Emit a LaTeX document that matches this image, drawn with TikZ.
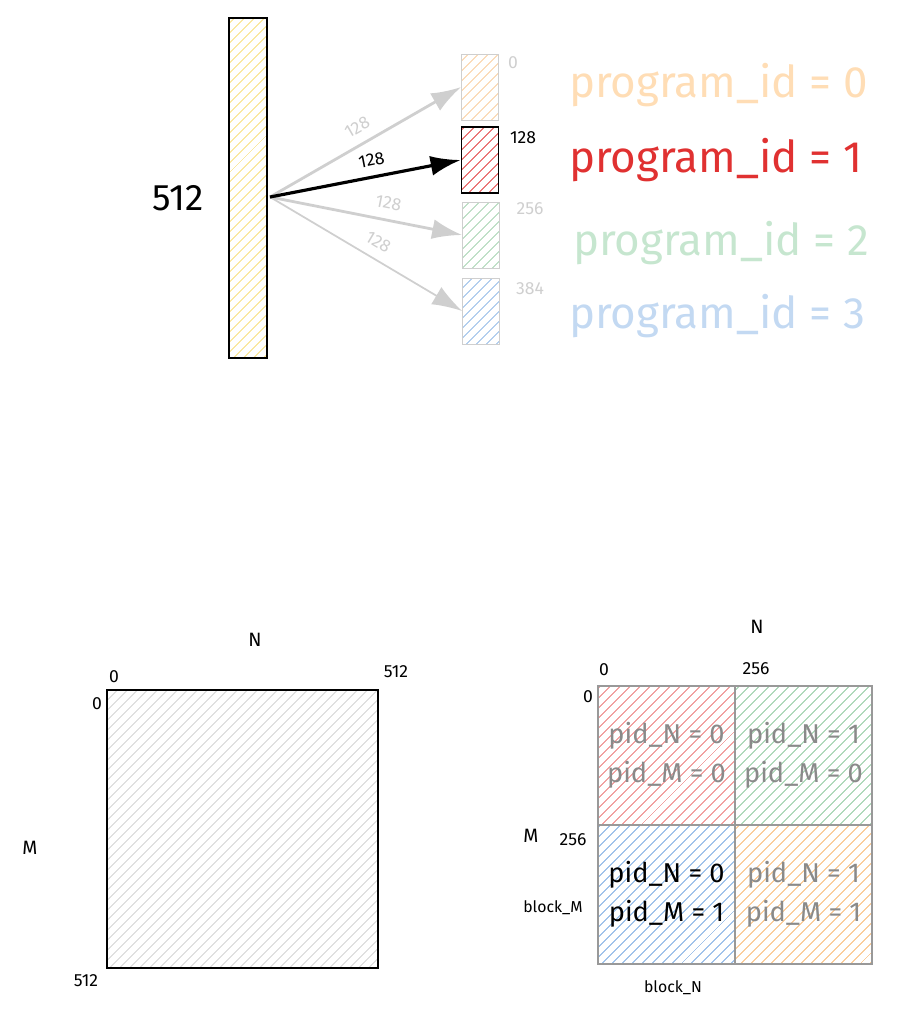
\documentclass[tikz,border=0pt]{standalone}
\usepackage{fontspec}
\setmainfont{Fira Sans}
\usepackage{tikz}
\usetikzlibrary{arrows.meta,positioning,calc,patterns.meta}

\definecolor{barYellow}{HTML}{F7DC6F}
\definecolor{pidOrange}{HTML}{FFDDB5}
\definecolor{hatchOrange}{HTML}{F7B267}
\definecolor{pidRed}{HTML}{E03131}
\definecolor{pidGreen}{HTML}{C6E6CF}
\definecolor{hatchGreen}{HTML}{86C496}
\definecolor{pidBlue}{HTML}{C3D9F2}
\definecolor{hatchBlue}{HTML}{6FA3DE}
\definecolor{lightGray}{HTML}{CFCFCF}
\definecolor{midGray}{HTML}{999999}
\definecolor{textGray}{HTML}{8A8A8A}

\begin{document}
\begin{tikzpicture}[
    x=0.02cm, y=-0.02cm,
    hatch/.style={pattern={Lines[angle=45,distance=4pt,line width=0.5pt]}, pattern color=#1},
    slot/.style={draw, inner sep=0pt, minimum width=0.74cm, minimum height=1.32cm},
    cell/.style={draw=midGray, line width=1pt, inner sep=0pt, minimum width=2.74cm, minimum height=2.78cm,
      align=center, font=\fontsize{15.5}{22}\selectfont, text=textGray},
    arr/.style={-{Latex[length=6mm, width=4mm]}, line width=1.6pt, draw=lightGray},
    num/.style={font=\fontsize{10}{12}\selectfont},
    pid/.style={font=\fontsize{25}{28}\selectfont, anchor=west},
    axis/.style={font=\fontsize{11}{13}\selectfont},
    lbl/.style={num, sloped, above=2pt, pos=#1},
  ]
  \useasboundingbox (0,0) rectangle (898,1019);

  % one row of 512 split into four slots
  \node[draw, line width=1.2pt, inner sep=0pt, minimum width=0.76cm, minimum height=6.8cm, hatch=barYellow] (row) at (248,188) {};
  \node[font=\fontsize{21}{24}\selectfont] (rowlen) at (178,198) {512};
  \coordinate (src) at (270,197);

  \node[slot, draw=lightGray, hatch=hatchOrange!70] (slot0) at (480,87) {};
  \node[slot, draw=black, line width=1pt, hatch=pidRed] (slot1) at (480,160) {};
  \node[slot, draw=lightGray, hatch=hatchGreen!80] (slot2) at (481,235) {};
  \node[slot, draw=lightGray, hatch=hatchBlue!80] (slot3) at (481,311) {};

  \node[num, text=lightGray] (off0) at (513,63) {0};
  \node[num] (off1) at (523,138) {128};
  \node[num, text=lightGray] (off2) at (530,209) {256};
  \node[num, text=lightGray] (off3) at (530,289) {384};

  \draw[arr] (src) -- node[lbl=0.5, text=lightGray] {128} (slot0.west);
  \draw[arr] (src) -- node[lbl=0.6, text=lightGray] {128} (slot2.west);
  \draw[arr, line width=1pt] (src) -- node[lbl=0.52, text=lightGray] {128} (slot3.west);
  \draw[arr, draw=black, line width=1.8pt] (src) -- node[lbl=0.55, text=black] {128} (slot1.west);

  \node[pid, text=pidOrange] (pid0) at (563,85) {program\_id = 0};
  \node[pid, text=pidRed] (pid1) at (563,160) {program\_id = 1};
  \node[pid, text=pidGreen] (pid2) at (567,243) {program\_id = 2};
  \node[pid, text=pidBlue] (pid3) at (563,316) {program\_id = 3};

  % whole M x N matrix
  \node[draw, line width=1.1pt, inner sep=0pt, minimum width=5.42cm, minimum height=5.56cm, hatch=lightGray] (mat) at (242.5,829) {};
  \node[axis] (matN) at (255,640) {N};
  \node[axis] (matM) at (30,848) {M};
  \node[num] (matc0) at (114,677) {0};
  \node[num] (matc512) at (396,672) {512};
  \node[num] (matr0) at (97,704) {0};
  \node[num] (matr512) at (86,981) {512};

  % matrix split into 2 x 2 blocks
  \node[cell, hatch=pidRed!70] (blk00) at (666.5,755.5) {pid\_N = 0\\pid\_M = 0};
  \node[cell, hatch=hatchGreen] (blk01) at (803.5,755.5) {pid\_N = 1\\pid\_M = 0};
  \node[cell, hatch=hatchBlue, text=black] (blk10) at (666.5,894.5) {pid\_N = 0\\pid\_M = 1};
  \node[cell, hatch=hatchOrange] (blk11) at (803.5,894.5) {pid\_N = 1\\pid\_M = 1};

  \node[axis] (blkN) at (757,627) {N};
  \node[axis] (blkM) at (531,836) {M};
  \node[num] (blkc0) at (604,670) {0};
  \node[num] (blkc256) at (756,669) {256};
  \node[num] (blkr0) at (588,697) {0};
  \node[num] (blkr256) at (573,840) {256};
  \node[num, font=\fontsize{9}{11}\selectfont] (blockM) at (553,908) {block\_M};
  \node[num, font=\fontsize{9}{11}\selectfont] (blockN) at (673,988) {block\_N};
\end{tikzpicture}
\end{document}
